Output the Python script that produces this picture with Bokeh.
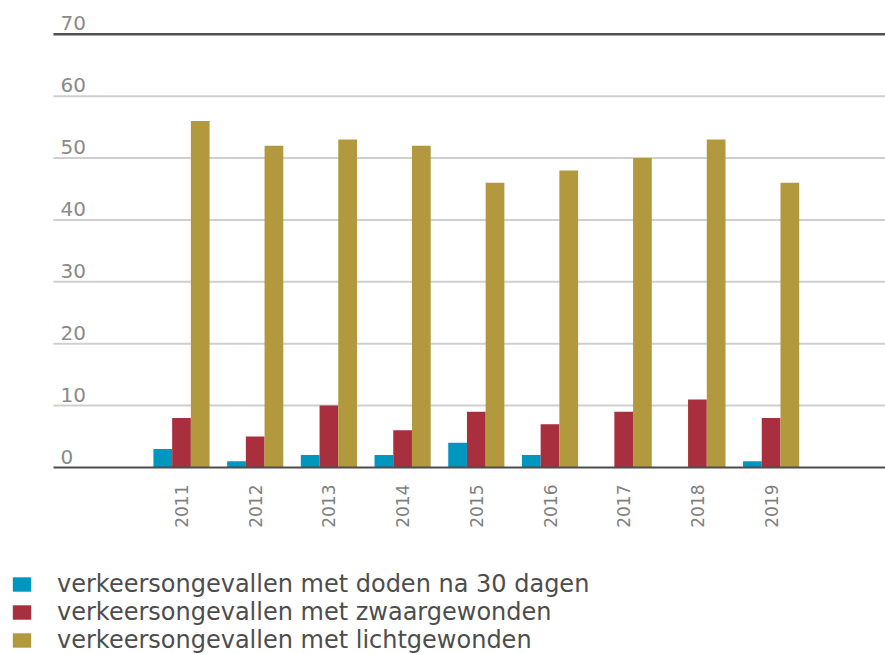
import numpy as np
from bokeh.plotting import figure
from bokeh.layouts import column
from bokeh.models import Range1d, FixedTicker, Legend, LegendItem
from bokeh.core.properties import value
from bokeh.embed import file_html
from bokeh.resources import INLINE

# ---- data ----
years = ["2011", "2012", "2013", "2014", "2015", "2016", "2017", "2018", "2019"]
doden = [3, 1, 2, 2, 4, 2, 0, 0, 1]
zwaargewonden = [8, 5, 10, 6, 9, 7, 9, 11, 8]
lichtgewonden = [56, 52, 53, 52, 46, 48, 50, 53, 46]
series = [doden, zwaargewonden, lichtgewonden]
series_names = [
    "verkeersongevallen met doden na 30 dagen",
    "verkeersongevallen met zwaargewonden",
    "verkeersongevallen met lichtgewonden",
]
series_colors = ["#0097bf", "#a72f3e", "#b3993e"]
y_ticks = [0, 10, 20, 30, 40, 50, 60, 70]
grid_ticks = [10, 20, 30, 40, 50, 60]

FONT = "DejaVu Sans"
idx = np.arange(len(years))
x_start, x_end = -2.456, 9.552   # frame spans the full width
x_left = -1.737                  # left end of gridlines / axis line
bar_w = 0.254

# ---------------- main chart ----------------
p = figure(width=885, height=570,
           x_range=Range1d(x_start, x_end), y_range=Range1d(0, 73.2),
           output_backend="svg", toolbar_location=None,
           y_axis_location=None,
           min_border_left=0, min_border_right=0,
           min_border_top=14, min_border_bottom=103)
p.outline_line_color = None
p.xgrid.visible = False
p.ygrid.visible = False

# horizontal gridlines from the left edge of the chart area
p.ray(x=[x_left] * len(grid_ticks), y=grid_ticks, length=0, angle=0,
      line_color="#cfcfcf", line_width=2)
p.ray(x=[x_left], y=[y_ticks[-1]], length=0, angle=0,
      line_color="#505050", line_width=2.5)

for k, (vals, col) in enumerate(zip(series, series_colors)):
    p.vbar(x=idx + (k - 1) * bar_w, top=vals, width=bar_w, bottom=0,
           fill_color=col, line_color=None)

# y tick labels drawn inside the plot, just above each gridline
p.text(x=[x_left] * len(y_ticks), y=y_ticks, text=[str(t) for t in y_ticks],
       x_offset=7, y_offset=-4, text_baseline="bottom", text_align="left",
       text_font=value(FONT), text_font_size="20px", text_color="#8a8a8a")

ax = p.xaxis[0]
ax.bounds = (x_left, x_end)
ax.ticker = FixedTicker(ticks=list(idx))
ax.major_label_overrides = {int(i): y for i, y in zip(idx, years)}
ax.major_label_orientation = np.pi / 2
ax.major_label_standoff = 11
ax.major_tick_line_color = None
ax.minor_tick_line_color = None
ax.axis_line_color = "#4d4d4d"
ax.axis_line_width = 2
ax.major_label_text_font = FONT
ax.major_label_text_font_size = "17px"
ax.major_label_text_color = "#7f7f7f"

# ---------------- legend strip ----------------
lg = figure(width=885, height=84, x_range=Range1d(-10, -9), y_range=Range1d(-10, -9),
            output_backend="svg", toolbar_location=None,
            x_axis_location=None, y_axis_location=None,
            min_border_left=0, min_border_right=0, min_border_top=0, min_border_bottom=0)
lg.outline_line_color = None
lg.xgrid.visible = False
lg.ygrid.visible = False
# same series as the chart (outside this strip's view), used for the legend swatches
swatches = [lg.vbar(x=idx, top=vals, bottom=0, width=bar_w, fill_color=c, line_color=None)
            for vals, c in zip(series, series_colors)]
legend = Legend(items=[LegendItem(label=n, renderers=[r]) for n, r in zip(series_names, swatches)],
                location=(10, 0), orientation="vertical",
                glyph_width=23, glyph_height=18, label_height=18,
                label_standoff=24, spacing=0, padding=0, margin=0,
                border_line_color=None, background_fill_alpha=0,
                label_text_font=FONT, label_text_font_size="24px",
                label_text_color="#4d4d4d")
lg.add_layout(legend, "center")

layout = column(p, lg, spacing=0)
open("out.html", "w").write(file_html(layout, INLINE))
